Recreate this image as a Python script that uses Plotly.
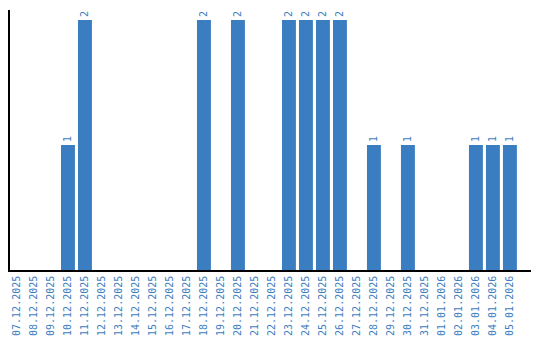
import plotly.graph_objects as go

dates = ["07.12.2025", "08.12.2025", "09.12.2025", "10.12.2025", "11.12.2025",
         "12.12.2025", "13.12.2025", "14.12.2025", "15.12.2025", "16.12.2025",
         "17.12.2025", "18.12.2025", "19.12.2025", "20.12.2025", "21.12.2025",
         "22.12.2025", "23.12.2025", "24.12.2025", "25.12.2025", "26.12.2025",
         "27.12.2025", "28.12.2025", "29.12.2025", "30.12.2025", "31.12.2025",
         "01.01.2026", "02.01.2026", "03.01.2026", "04.01.2026", "05.01.2026"]
counts = [0, 0, 0, 1, 2, 0, 0, 0, 0, 0, 0, 2, 0, 2, 0, 0, 2, 2, 2, 2,
          0, 1, 0, 1, 0, 0, 0, 1, 1, 1]

blue = "#3b7dc1"
labels = [str(v) if v else "" for v in counts]

fig = go.Figure(go.Bar(
    x=list(range(len(dates))), y=counts, marker_color=blue, marker_line_width=0,
    text=labels, textposition="outside", textangle=-90,
    textfont=dict(family="DejaVu Sans Mono", size=10, color=blue),
    cliponaxis=False,
))
fig.update_layout(
    width=540, height=340, margin=dict(l=10, r=9, t=10, b=70),
    paper_bgcolor="white", plot_bgcolor="white", bargap=0.18, showlegend=False,
)
fig.update_xaxes(
    tickmode="array", tickvals=list(range(len(dates))), ticktext=dates,
    tickangle=-90, tickfont=dict(family="DejaVu Sans Mono", size=10, color=blue),
    range=[-0.41, 30.24], showline=True, linecolor="black", linewidth=1.5,
    showgrid=False, zeroline=False, ticks="", automargin=False,
)
fig.update_yaxes(
    range=[0, 2.08], showline=True, linecolor="black", linewidth=1.5,
    showgrid=False, zeroline=False, showticklabels=False, ticks="", automargin=False,
)
fig.write_html("out.html")
